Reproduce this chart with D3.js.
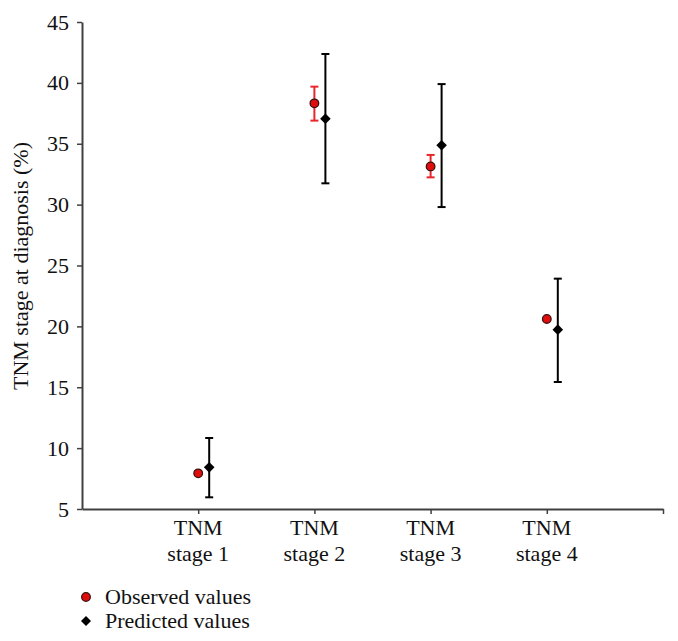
<!DOCTYPE html>
<html><head><meta charset="utf-8">
<script src="https://cdn.jsdelivr.net/npm/d3@7"></script>
<style>body{margin:0;background:#fff}svg text{font-family:"Liberation Serif","Times New Roman",serif;fill:#111}</style>
</head><body>
<svg id="c" width="678" height="641"></svg>
<script>
const categories = ["TNM\nstage 1","TNM\nstage 2","TNM\nstage 3","TNM\nstage 4"];
const observed = [7.93, 38.32, 33.14, 20.61];
const observedLow = [7.93, 36.9, 32.24, 20.61];
const observedHigh = [7.93, 39.69, 34.08, 20.61];
const predicted = [8.42, 37.06, 34.87, 19.73];
const predictedLow = [5.96, 31.75, 29.8, 15.43];
const predictedHigh = [10.83, 42.37, 39.9, 23.92];
const yTicks = [5,10,15,20,25,30,35,40,45];
const yLabel = "TNM stage at diagnosis (%)";
const legendLabels = ["Observed values","Predicted values"];

const FS = 22;
const svg = d3.select("#c");
const x = d3.scaleLinear().domain([0,5]).range([82,663]);
const y = d3.scaleLinear().domain([5,45]).range([509,22]);
const axisCol = "#404040";

// y axis
const ya = svg.append("g").attr("transform","translate(82,0)")
  .call(d3.axisLeft(y).tickValues(yTicks).tickSize(5).tickSizeOuter(0).tickPadding(8));
ya.select(".domain").attr("stroke",axisCol).attr("stroke-width",2);
ya.selectAll(".tick line").attr("stroke",axisCol).attr("stroke-width",1.5);
ya.selectAll(".tick text").attr("font-size",FS).attr("fill","#111").attr("font-family","Liberation Serif");

// x axis
const xa = svg.append("g").attr("transform","translate(0,509)")
  .call(d3.axisBottom(x).tickValues([1,2,3,4,5]).tickSize(5).tickSizeOuter(0).tickFormat(""));
xa.select(".domain").attr("stroke",axisCol).attr("stroke-width",2);
xa.selectAll(".tick line").attr("stroke",axisCol).attr("stroke-width",1.5);

categories.forEach((c,i)=>{
  const t = svg.append("text").attr("text-anchor","middle").attr("font-size",FS)
    .attr("x",x(i+1)).attr("y",535);
  c.split("\n").forEach((line,j)=>t.append("tspan").attr("x",x(i+1)).attr("dy",j?26:0).text(line));
});

svg.append("text").attr("transform","translate(28,266) rotate(-90)")
  .attr("text-anchor","middle").attr("font-size",FS).text(yLabel);

const off = 11;
const cap = 4;
// predicted error bars
predicted.forEach((v,i)=>{
  const px = x(i+1)+off;
  const g = svg.append("g").attr("stroke","#000").attr("stroke-width",2);
  g.append("line").attr("x1",px).attr("x2",px).attr("y1",y(predictedLow[i])).attr("y2",y(predictedHigh[i]));
  g.append("line").attr("x1",px-cap).attr("x2",px+cap).attr("y1",y(predictedLow[i])).attr("y2",y(predictedLow[i]));
  g.append("line").attr("x1",px-cap).attr("x2",px+cap).attr("y1",y(predictedHigh[i])).attr("y2",y(predictedHigh[i]));
});
// observed error bars
observed.forEach((v,i)=>{
  if (observedHigh[i]-observedLow[i] < 0.01) return;
  const px = x(i+1);
  const g = svg.append("g").attr("stroke","#e8262b").attr("stroke-width",2);
  g.append("line").attr("x1",px).attr("x2",px).attr("y1",y(observedLow[i])).attr("y2",y(observedHigh[i]));
  g.append("line").attr("x1",px-cap).attr("x2",px+cap).attr("y1",y(observedLow[i])).attr("y2",y(observedLow[i]));
  g.append("line").attr("x1",px-cap).attr("x2",px+cap).attr("y1",y(observedHigh[i])).attr("y2",y(observedHigh[i]));
});
// predicted markers
predicted.forEach((v,i)=>{
  svg.append("path").attr("d",d3.symbol().type(d3.symbolSquare).size(56)())
    .attr("transform",`translate(${x(i+1)+off},${y(v)}) rotate(45)`).attr("fill","#000");
});
// observed markers
observed.forEach((v,i)=>{
  svg.append("circle").attr("cx",x(i+1)).attr("cy",y(v)).attr("r",4.3)
    .attr("fill","#e00d0d").attr("stroke","#3a1010").attr("stroke-width",1.3);
});

// legend
svg.append("circle").attr("cx",86).attr("cy",597).attr("r",4.3)
  .attr("fill","#e00d0d").attr("stroke","#3a1010").attr("stroke-width",1.3);
svg.append("path").attr("d",d3.symbol().type(d3.symbolSquare).size(50)())
  .attr("transform","translate(86,621) rotate(45)").attr("fill","#000");
svg.append("text").attr("x",105).attr("y",604).attr("font-size",FS).text(legendLabels[0]);
svg.append("text").attr("x",105).attr("y",628).attr("font-size",FS).text(legendLabels[1]);
</script>
</body></html>
